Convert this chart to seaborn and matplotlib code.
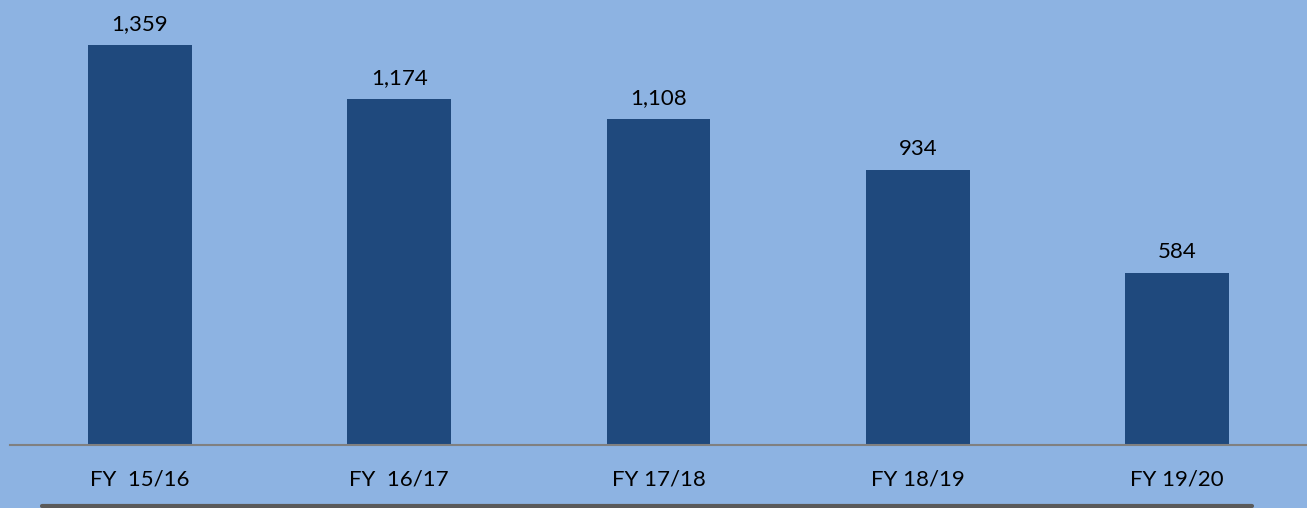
import matplotlib
matplotlib.use("Agg")
import matplotlib.pyplot as plt
from matplotlib.lines import Line2D
import seaborn as sns
import pandas as pd

# data
years = ["FY  15/16", "FY  16/17", "FY 17/18", "FY 18/19", "FY 19/20"]
counts = [1359, 1174, 1108, 934, 584]

bg = "#8DB3E2"
bar_color = "#1F497D"

sns.set_theme(style="white")
plt.rcParams["font.family"] = ["Lato", "DejaVu Sans"]

df = pd.DataFrame({"year": years, "count": counts})

fig = plt.figure(figsize=(13.07, 5.08), dpi=100, facecolor=bg)
ax = fig.add_axes([10 / 1307, 1 - 445 / 508, 1297 / 1307, 445 / 508])
ax.set_facecolor(bg)

sns.barplot(data=df, x="year", y="count", color=bar_color, width=0.4,
            saturation=1, linewidth=0, ax=ax)

ax.bar_label(ax.containers[0], labels=[f"{v:,}" for v in counts],
             padding=8, fontsize=16, color="black")

ax.set_xlim(-0.5, 4.5)
ax.set_ylim(0, 1512)
ax.set_xlabel("")
ax.set_ylabel("")
ax.set_yticks([])
ax.tick_params(axis="x", length=0, pad=18, labelsize=16, labelcolor="black")

for s in ["top", "right", "left"]:
    ax.spines[s].set_visible(False)
ax.spines["bottom"].set_color("#808080")
ax.spines["bottom"].set_linewidth(1.5)

# dark rule along the bottom edge
fig.add_artist(Line2D([42 / 1307, 1252 / 1307], [2 / 508, 2 / 508],
                      transform=fig.transFigure, color="#5A5A5A", lw=3))

fig.savefig("out.png", dpi=100, facecolor=bg)
